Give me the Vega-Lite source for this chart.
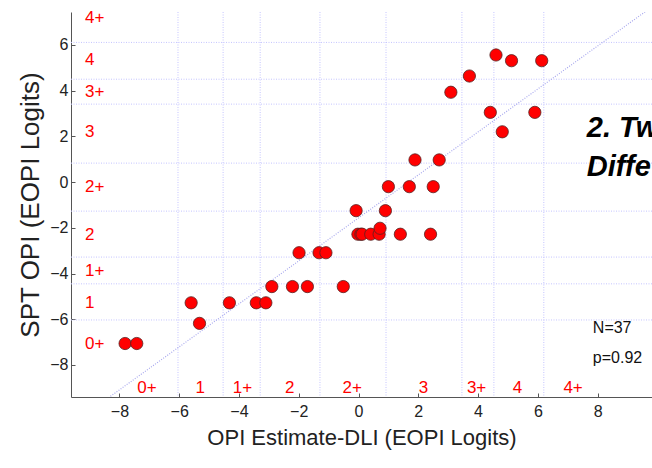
{
  "$schema": "https://vega.github.io/schema/vega-lite/v6.json",
  "width": 581,
  "height": 385,
  "autosize": {"type": "none"},
  "padding": {"left": 71, "top": 12, "right": 0, "bottom": 71},
  "background": "white",
  "config": {
    "view": {"stroke": null},
    "font": "Liberation Sans",
    "axis": {"grid": false, "domainColor": "#555555", "tickColor": "#555555", "labelColor": "#222222", "titleColor": "#222222", "labelFont": "Liberation Sans", "titleFont": "Liberation Sans", "titleFontWeight": "normal"}
  },
  "datasets": {
    "points": [
      {"dli": -7.81, "spt": -7.06}, {"dli": -7.42, "spt": -7.06},
      {"dli": -5.60, "spt": -5.28}, {"dli": -5.32, "spt": -6.18},
      {"dli": -4.32, "spt": -5.28}, {"dli": -3.42, "spt": -5.28},
      {"dli": -3.10, "spt": -5.28}, {"dli": -2.90, "spt": -4.57},
      {"dli": -2.21, "spt": -4.57}, {"dli": -1.71, "spt": -4.57},
      {"dli": -0.51, "spt": -4.57}, {"dli": -1.99, "spt": -3.09},
      {"dli": -1.32, "spt": -3.09}, {"dli": -1.09, "spt": -3.09},
      {"dli": -0.08, "spt": -1.25}, {"dli": 0.90, "spt": -1.25},
      {"dli": -0.02, "spt": -2.28}, {"dli": 0.08, "spt": -2.28},
      {"dli": 0.12, "spt": -2.28}, {"dli": 0.41, "spt": -2.28},
      {"dli": 0.69, "spt": -2.28}, {"dli": 0.72, "spt": -2.02},
      {"dli": 1.40, "spt": -2.28}, {"dli": 2.41, "spt": -2.28},
      {"dli": 1.00, "spt": -0.20}, {"dli": 1.70, "spt": -0.20},
      {"dli": 2.50, "spt": -0.20}, {"dli": 1.89, "spt": 0.97},
      {"dli": 2.70, "spt": 0.97}, {"dli": 3.09, "spt": 3.93},
      {"dli": 3.71, "spt": 4.64}, {"dli": 4.60, "spt": 5.56},
      {"dli": 5.12, "spt": 5.31}, {"dli": 6.13, "spt": 5.31},
      {"dli": 4.41, "spt": 3.05}, {"dli": 5.90, "spt": 3.05},
      {"dli": 4.81, "spt": 2.20}
    ],
    "hgrid": [
      {"v": 6.11}, {"v": 4.50}, {"v": 3.41}, {"v": 0.83}, {"v": -1.27}, {"v": -3.28}, {"v": -4.45}, {"v": -6.03}
    ],
    "vgrid": [
      {"v": 6.20}, {"v": 4.53}, {"v": 3.46}, {"v": 0.92}, {"v": -1.29}, {"v": -3.29}, {"v": -4.53}, {"v": -6.04}
    ],
    "diag": [
      {"x": -8.3, "y": -9.37}, {"x": 9.9, "y": 7.74}
    ],
    "levels": [
      {"level": "0+", "pos": -7.08}, {"level": "1", "pos": -5.30},
      {"level": "1+", "pos": -3.88}, {"level": "2", "pos": -2.30},
      {"level": "2+", "pos": -0.21}, {"level": "3", "pos": 2.17},
      {"level": "3+", "pos": 3.95}, {"level": "4", "pos": 5.32},
      {"level": "4+", "pos": 7.18}
    ],
    "notes": [
      {"t": "N=37", "x": 7.84, "y": -6.39},
      {"t": "p=0.92", "x": 7.84, "y": -7.70}
    ],
    "heading": [
      {"t": "2. Tw", "x": 7.64, "y": 2.37},
      {"t": "Diffe", "x": 7.64, "y": 0.66}
    ]
  },
  "layer": [
    {
      "data": {"name": "hgrid"},
      "mark": {"type": "rule", "color": "#c4c4ff", "strokeDash": [1, 1.5], "strokeWidth": 1},
      "encoding": {"y": {"field": "v", "type": "quantitative", "scale": {"domain": [-9.4, 7.44], "nice": false, "zero": false}}}
    },
    {
      "data": {"name": "vgrid"},
      "mark": {"type": "rule", "color": "#c4c4ff", "strokeDash": [1, 1.5], "strokeWidth": 1},
      "encoding": {"x": {"field": "v", "type": "quantitative", "scale": {"domain": [-9.62, 9.82], "nice": false, "zero": false}}}
    },
    {
      "data": {"name": "diag"},
      "mark": {"type": "line", "color": "#a8a8ee", "strokeDash": [1, 1.5], "strokeWidth": 1.2, "clip": true},
      "encoding": {
        "x": {"field": "x", "type": "quantitative"},
        "y": {"field": "y", "type": "quantitative"}
      }
    },
    {
      "data": {"name": "levels"},
      "mark": {"type": "text", "color": "#ff0000", "fontSize": 17, "align": "left", "baseline": "middle", "font": "Liberation Sans"},
      "encoding": {
        "x": {"datum": -9.15, "type": "quantitative"},
        "y": {"field": "pos", "type": "quantitative"},
        "text": {"field": "level"}
      }
    },
    {
      "data": {"name": "levels"},
      "mark": {"type": "text", "color": "#ff0000", "fontSize": 17, "align": "center", "baseline": "middle", "font": "Liberation Sans"},
      "encoding": {
        "x": {"field": "pos", "type": "quantitative"},
        "y": {"datum": -9.0, "type": "quantitative"},
        "text": {"field": "level"}
      }
    },
    {
      "data": {"name": "points"},
      "mark": {"type": "point", "shape": "circle", "filled": true, "size": 150, "color": "#ff0000", "stroke": "#552222", "strokeWidth": 0.8, "opacity": 1},
      "encoding": {
        "x": {"field": "dli", "type": "quantitative", "title": "OPI Estimate-DLI (EOPI Logits)",
          "axis": {"values": [-8, -6, -4, -2, 0, 2, 4, 6, 8], "tickSize": -4, "labelPadding": 10, "labelFontSize": 16, "titleFontSize": 22, "titlePadding": 8}},
        "y": {"field": "spt", "type": "quantitative", "title": "SPT OPI (EOPI Logits)",
          "axis": {"values": [-8, -6, -4, -2, 0, 2, 4, 6], "tickSize": -4, "labelPadding": 7, "labelFontSize": 16, "titleFontSize": 26, "titlePadding": 6}}
      }
    },
    {
      "data": {"name": "notes"},
      "mark": {"type": "text", "color": "#111111", "fontSize": 16, "align": "left", "baseline": "middle", "font": "Liberation Sans"},
      "encoding": {
        "x": {"field": "x", "type": "quantitative"},
        "y": {"field": "y", "type": "quantitative"},
        "text": {"field": "t"}
      }
    },
    {
      "data": {"name": "heading"},
      "mark": {"type": "text", "color": "#000000", "fontSize": 29, "fontWeight": "bold", "fontStyle": "italic", "align": "left", "baseline": "middle", "font": "Liberation Sans"},
      "encoding": {
        "x": {"field": "x", "type": "quantitative"},
        "y": {"field": "y", "type": "quantitative"},
        "text": {"field": "t"}
      }
    }
  ]
}
